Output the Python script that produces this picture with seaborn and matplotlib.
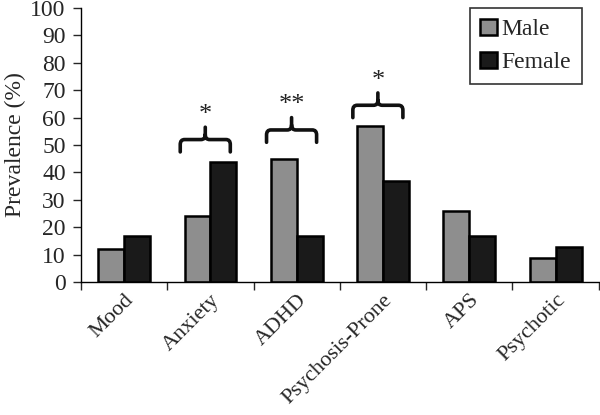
import pandas as pd
import numpy as np
import matplotlib
matplotlib.use("Agg")
import matplotlib.pyplot as plt
from matplotlib.path import Path
from matplotlib.patches import PathPatch
import seaborn as sns

# Data
disorders = ["Mood", "Anxiety", "ADHD", "Psychosis-Prone", "APS", "Psychotic"]
male = [12, 24, 45, 57, 26, 9]
female = [17, 44, 17, 37, 17, 13]

# significance brackets: category index, stars
sig_cats = [1, 2, 3]
sig_stars = ["*", "**", "*"]
sig_base = [47.5, 51, 60]   # where the bracket legs end

df = pd.DataFrame({
    "disorder": disorders * 2,
    "prevalence": male + female,
    "sex": ["Male"] * len(disorders) + ["Female"] * len(disorders),
})

sns.set_style("white")
plt.rcParams["font.family"] = "serif"
plt.rcParams["font.serif"] = ["Liberation Serif", "DejaVu Serif"]

fig = plt.figure(figsize=(6, 4.15), dpi=100)
ax = fig.add_axes([0.135, 0.32, 0.863, 0.661])

sns.barplot(data=df, x="disorder", y="prevalence", hue="sex",
            palette={"Male": "#8e8e8e", "Female": "#1a1a1a"},
            edgecolor="black", linewidth=1.8, width=0.6, ax=ax)


def draw_brace(ax, xc, half, y_end, h=4.5, tip=4.5, rx=0.05, ry=1.8):
    xl, xr = xc - half, xc + half
    ym = y_end + h
    verts = [
        (xl, y_end), (xl, ym - ry),
        (xl, ym), (xl + rx, ym),
        (xc - rx, ym),
        (xc, ym), (xc, ym + ry),
        (xc, ym + tip),
        (xc, ym + ry),
        (xc, ym), (xc + rx, ym),
        (xr - rx, ym),
        (xr, ym), (xr, ym - ry),
        (xr, y_end),
    ]
    codes = [Path.MOVETO, Path.LINETO,
             Path.CURVE3, Path.CURVE3,
             Path.LINETO,
             Path.CURVE3, Path.CURVE3,
             Path.LINETO,
             Path.MOVETO,
             Path.CURVE3, Path.CURVE3,
             Path.LINETO,
             Path.CURVE3, Path.CURVE3,
             Path.LINETO]
    ax.add_patch(PathPatch(Path(verts, codes), fill=False, lw=2.6,
                           edgecolor="#111111", capstyle="round"))
    return ym + tip


for c, s, b in zip(sig_cats, sig_stars, sig_base):
    xc = c - 0.06
    top = draw_brace(ax, xc, 0.29, b)
    ax.text(xc, top + 0.5, s, ha="center", va="bottom", fontsize=19,
            color="#222222")

ax.set_ylim(0, 100)
ax.set_xlim(-0.5, len(disorders) - 0.5)
ax.set_yticks(np.arange(0, 101, 10))
ax.tick_params(axis="y", labelsize=17, length=6, width=1, direction="out",
               left=True, pad=5)

# ticks between categories, labels at the centres
ax.set_xticks(np.arange(-0.5, len(disorders), 1.0))
ax.set_xticklabels([])
ax.set_xticks(np.arange(len(disorders)), minor=True)
ax.set_xticklabels(disorders, minor=True, rotation=45, ha="right",
                   rotation_mode="anchor", fontsize=16)
ax.tick_params(axis="x", which="major", length=6, width=1, direction="out",
               bottom=True)
ax.tick_params(axis="x", which="minor", length=0, pad=6)

ax.set_xlabel("")
ax.set_ylabel("Prevalence (%)", fontsize=17, labelpad=3)

for side in ["top", "right"]:
    ax.spines[side].set_visible(False)
for side in ["left", "bottom"]:
    ax.spines[side].set_color("black")
    ax.spines[side].set_linewidth(1)

leg = ax.legend(loc="upper right", bbox_to_anchor=(0.967, 1.0), fontsize=17,
                frameon=True, fancybox=False, edgecolor="black",
                handlelength=0.7, handleheight=0.7, handletextpad=0.2,
                borderpad=0.45, labelspacing=0.5, borderaxespad=0, title=None)
leg.get_frame().set_linewidth(1.2)

fig.savefig("out.png", dpi=100, facecolor="white")
